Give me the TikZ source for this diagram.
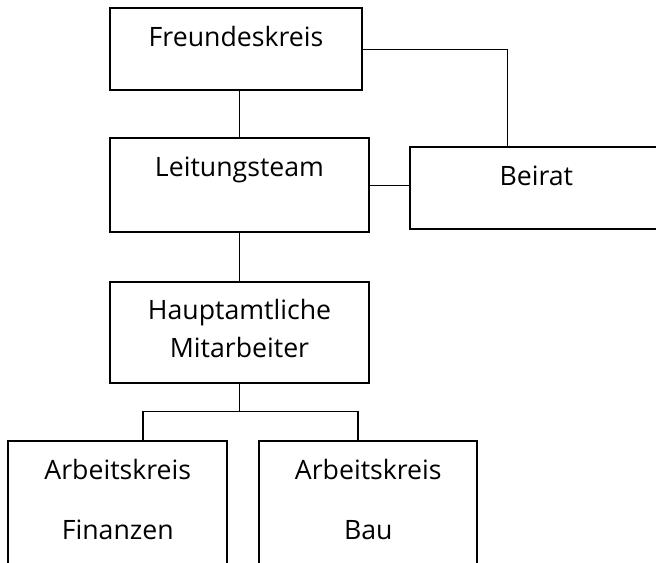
\documentclass[tikz,border=0pt]{standalone}
\usepackage{fontspec}
\setmainfont{Open Sans}
\usetikzlibrary{positioning}

\begin{document}
\begin{tikzpicture}[
  x=0.75pt, y=-0.75pt,
  node distance=36pt,
  box/.style={draw,line width=1.5pt,inner sep=0pt,outer sep=0pt,align=center,text height=28.5pt,font=\fontsize{20}{28.5}\selectfont},
  link/.style={draw,line width=1pt}
]
\useasboundingbox (0,0) rectangle (656,563);
\clip (0,0) rectangle (656,563);
\node[box,text width=189pt,text depth=32.6pt,anchor=north west] (fk) at (110,8.5) {Freundeskreis};
\node[box,text width=194.25pt,text depth=41.6pt,below=36.4pt of fk.south west,anchor=north west] (lt) {Leitungsteam};
\node[box,text width=189pt,text depth=33pt,right=31pt of lt.north east,anchor=north west,yshift=-6.6pt] (br) {Beirat};
\node[box,text width=194.25pt,text depth=47pt,below=37.5pt of lt.south west,anchor=north west] (ha) {Hauptamtliche\\Mitarbeiter};
\node[box,text width=164.25pt,text depth=91.5pt,anchor=north west] (akf) at (8.3,441) {Arbeitskreis\\[16.5pt]Finanzen};
\node[box,text width=163.5pt,text depth=91.5pt,right=24pt of akf.north east,anchor=north west] (akb) {Arbeitskreis\\[16.5pt]Bau};
\draw[link] (lt.north) -- (lt.north |- fk.south);
\draw[link] (fk.east) -| ([xshift=72.75pt]br.north west);
\draw[link] (lt.east) -- (lt.east -| br.west);
\draw[link] (lt.south) -- (ha.north);
\draw[link] (ha.south) -- ++(0,29) coordinate (fork);
\draw[link] ([xshift=101pt]akf.north west) |- (fork) -| ([xshift=74pt]akb.north west);
\end{tikzpicture}
\end{document}
